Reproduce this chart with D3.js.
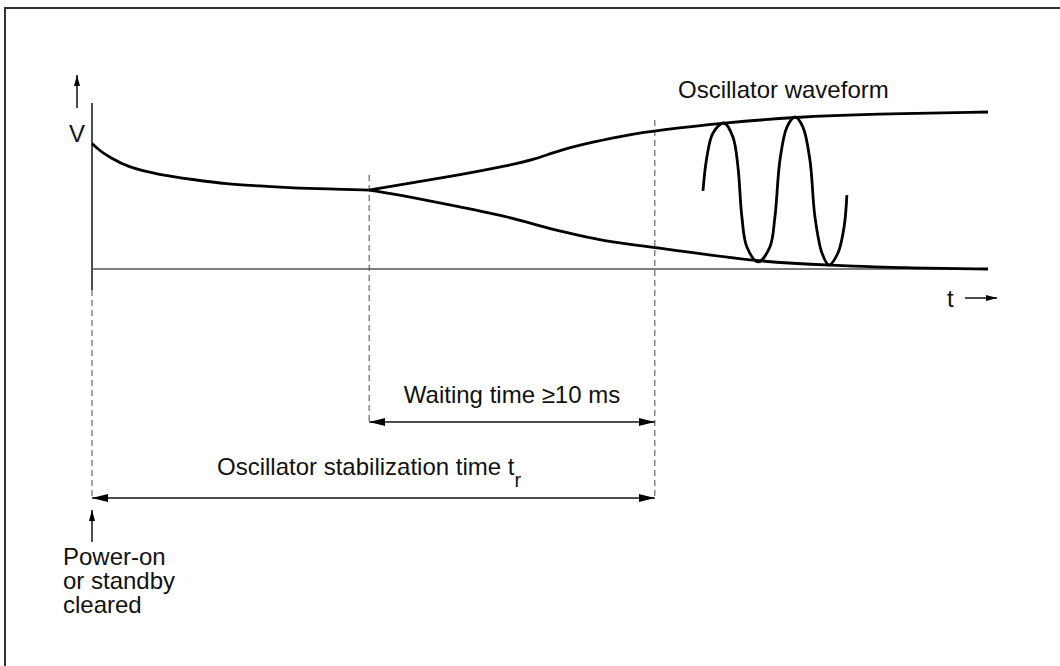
<!DOCTYPE html>
<html lang="en">
<head>
<meta charset="utf-8">
<script src="https://d3js.org/d3.v7.min.js"></script>
<style>
  body { margin: 0; background: #fff; }
  svg { display: block; font-family: "Liberation Sans", Arial, Helvetica, sans-serif; }
  .curve { fill: none; stroke: #000; stroke-width: 2.8; stroke-linejoin: round; }
  .guide { stroke: #666; stroke-width: 1.2; stroke-dasharray: 6,4; }
  .dim { stroke: #111; stroke-width: 1.5; }
  .label { font-size: 24px; fill: #111; }
</style>
</head>
<body>
<script>
  // time in ms (x), relative voltage in % (y)
  var decay = [[0, 80], [0.3, 75], [0.65, 71], [1.25, 65], [2.4, 60], [3.6, 57],
               [4.8, 54], [6, 53], [7.2, 51.6], [8.4, 51], [9.9, 50.3]];

  var upperEnvelope = [[9.9, 50.3], [11.36, 54.8], [13.14, 59.9], [14.93, 66.2], [15.75, 69.4],
                       [16.71, 75.8], [17.89, 80.9], [19.1, 85.4], [20.29, 88.5], [22.54, 93],
                       [25.1, 96.8], [27.9, 98.7], [32, 100]];

  var lowerEnvelope = [[9.9, 50.3], [11.36, 45.9], [13.14, 39.5], [14.93, 33.1], [16.1, 26.8],
                       [17.32, 21.7], [18.5, 17.2], [20.29, 13.4], [23.75, 4.5], [26.36, 2.5],
                       [29.1, 0.6], [32, 0]];

  var waveform = [[21.82, 49.7], [21.96, 71.3], [22.18, 86.6], [22.57, 93], [22.89, 84.1],
                  [23.07, 65], [23.21, 33.1], [23.39, 14], [23.79, 4.5], [24.21, 14],
                  [24.39, 33.1], [24.57, 69.4], [24.82, 90.4], [25.11, 96.8], [25.39, 90.4],
                  [25.64, 69.4], [25.82, 33.1], [26.07, 10.2], [26.32, 2.5], [26.64, 10.2],
                  [26.86, 26.8], [26.96, 47.1]];

  // power-on, start of waiting time, end of stabilization
  var markers = [0, 9.9, 20.1];

  var width = 1060, height = 666;

  var svg = d3.select("body").append("svg")
      .attr("width", width)
      .attr("height", height);

  var x = d3.scaleLinear().domain([0, 32]).range([92, 988]);
  var y = d3.scaleLinear().domain([0, 100]).range([269, 112]);

  var defs = svg.append("defs");

  defs.append("marker")
      .attr("id", "head")
      .attr("markerUnits", "userSpaceOnUse")
      .attr("markerWidth", 17).attr("markerHeight", 9)
      .attr("refX", 16).attr("refY", 4)
      .attr("orient", "auto-start-reverse")
    .append("path")
      .attr("d", "M0,0 L16,4 L0,8 Z")
      .attr("fill", "#000");

  defs.append("marker")
      .attr("id", "small")
      .attr("markerUnits", "userSpaceOnUse")
      .attr("markerWidth", 12).attr("markerHeight", 7)
      .attr("refX", 11).attr("refY", 3)
      .attr("orient", "auto-start-reverse")
    .append("path")
      .attr("d", "M0,0 L11,3 L0,6 Z")
      .attr("fill", "#000");

  // frame (cropped: only top and left edges are visible)
  svg.append("rect")
      .attr("x", 5).attr("y", 8)
      .attr("width", 1200).attr("height", 800)
      .attr("fill", "none")
      .attr("stroke", "#333")
      .attr("stroke-width", 2);

  // dashed guides
  var guideSpans = [[290, 500], [175, 422], [120, 500]];
  svg.append("g").selectAll("line")
    .data(markers)
    .enter().append("line")
      .attr("class", "guide")
      .attr("x1", d => x(d)).attr("x2", d => x(d))
      .attr("y1", (d, i) => guideSpans[i][0])
      .attr("y2", (d, i) => guideSpans[i][1]);

  // axes
  svg.append("line")
      .attr("x1", x(0)).attr("x2", x(0))
      .attr("y1", 103).attr("y2", 290)
      .attr("stroke", "#000").attr("stroke-width", 1.4);

  svg.append("line")
      .attr("x1", x(0)).attr("x2", x(32))
      .attr("y1", y(0)).attr("y2", y(0))
      .attr("stroke", "#555").attr("stroke-width", 1.5);

  // curves
  var line = d3.line()
      .x(d => x(d[0]))
      .y(d => y(d[1]))
      .curve(d3.curveBasis);

  [decay, upperEnvelope, lowerEnvelope].forEach(function(s) {
    svg.append("path")
        .attr("class", "curve")
        .attr("d", line(s));
  });

  svg.append("path")
      .attr("class", "curve")
      .attr("d", d3.line()
        .x(d => x(d[0]))
        .y(d => y(d[1]))
        .curve(d3.curveCatmullRom.alpha(0.5))(waveform));

  // axis arrows
  svg.append("line")
      .attr("class", "dim")
      .attr("x1", 77).attr("y1", 108)
      .attr("x2", 77).attr("y2", 75)
      .attr("marker-end", "url(#small)");

  svg.append("line")
      .attr("class", "dim")
      .attr("x1", 965).attr("y1", 298)
      .attr("x2", 997).attr("y2", 298)
      .attr("marker-end", "url(#small)");

  svg.append("line")
      .attr("class", "dim")
      .attr("x1", x(0)).attr("y1", 542)
      .attr("x2", x(0)).attr("y2", 510)
      .attr("marker-end", "url(#small)");

  // dimension arrows
  svg.append("line")
      .attr("class", "dim")
      .attr("stroke", "#333")
      .attr("x1", x(markers[1])).attr("y1", 422)
      .attr("x2", x(markers[2])).attr("y2", 422)
      .attr("marker-start", "url(#head)")
      .attr("marker-end", "url(#head)");

  svg.append("line")
      .attr("class", "dim")
      .attr("x1", x(markers[0])).attr("y1", 498)
      .attr("x2", x(markers[2])).attr("y2", 498)
      .attr("marker-start", "url(#head)")
      .attr("marker-end", "url(#head)");

  // labels
  svg.append("text").attr("class", "label")
      .attr("x", 69).attr("y", 142).text("V");

  svg.append("text").attr("class", "label")
      .attr("x", 947).attr("y", 307).text("t");

  svg.append("text").attr("class", "label")
      .attr("x", 678).attr("y", 98).text("Oscillator waveform");

  svg.append("text").attr("class", "label")
      .attr("text-anchor", "middle")
      .attr("x", (x(markers[1]) + x(markers[2])) / 2).attr("y", 403)
      .text("Waiting time \u226510 ms");

  var stab = svg.append("text").attr("class", "label")
      .attr("x", 217).attr("y", 475);
  stab.append("tspan").text("Oscillator stabilization time t");
  stab.append("tspan").attr("font-size", "20px").attr("dy", 12).text("r");

  var power = svg.append("text").attr("class", "label");
  ["Power-on", "or standby", "cleared"].forEach(function(s, i) {
    power.append("tspan")
        .attr("x", 63)
        .attr("y", 565 + i * 24)
        .text(s);
  });
</script>
</body>
</html>
